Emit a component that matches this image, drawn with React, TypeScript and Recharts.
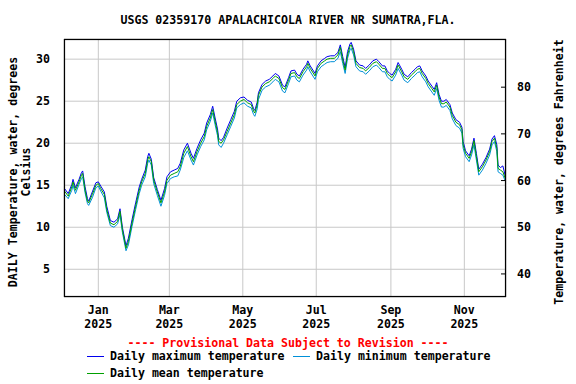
import React from 'react';
import { LineChart, Line, XAxis, YAxis, CartesianGrid } from 'recharts';

// day offsets from Jan 1 2025 (negative = Dec 2024)
const days = [
  -28, -25, -22, -21, -19, -16, -14, -13, -11, -9, -8, -5, -2, 0, 2, 5, 7, 10, 13, 16,
  18, 20, 23, 25, 28, 31, 34, 36, 39, 41, 42, 44, 46, 49, 52, 55, 57, 60, 63, 66,
  68, 71, 74, 77, 79, 82, 85, 88, 90, 93, 95, 97, 99, 100, 102, 104, 107, 110, 113, 115,
  118, 121, 124, 127, 129, 130, 132, 133, 136, 139, 142, 145, 147, 150, 153, 155, 158, 160, 163, 165,
  167, 170, 173, 174, 176, 180, 182, 185, 188, 190, 193, 196, 199, 201, 203, 205, 207, 209, 210, 212,
  214, 217, 220, 222, 225, 228, 231, 233, 236, 238, 240, 242, 244, 247, 249, 252, 254, 257, 260, 263,
  265, 267, 269, 272, 274, 277, 279, 281, 283, 285, 287, 289, 292, 294, 297, 300, 302, 303, 305, 308,
  310, 312, 314, 316, 319, 322, 325, 327, 329, 331, 332, 334, 336, 338,
];

const meanTemp = [
  14.3, 13.7, 14.8, 15.4, 14.4, 15.4, 16.2, 16.4, 14.4, 13.1, 12.9, 13.9, 15.0, 15.2, 14.6, 13.9, 12.1, 10.5, 10.3, 10.7,
  11.9, 9.7, 7.5, 8.3, 10.5, 12.5, 14.4, 15.4, 16.4, 18.0, 18.4, 17.8, 15.6, 14.2, 12.9, 14.2, 15.6, 16.2, 16.4, 16.6,
  17.2, 18.8, 19.6, 18.4, 17.8, 19.0, 20.0, 20.8, 22.0, 23.0, 24.0, 22.6, 21.3, 20.2, 20.0, 20.4, 21.4, 22.4, 23.4, 24.6,
  25.0, 25.2, 24.8, 24.6, 23.8, 23.6, 24.6, 25.7, 26.7, 27.1, 27.3, 27.7, 28.0, 27.7, 26.6, 26.4, 27.5, 28.3, 28.4, 27.9,
  27.7, 28.5, 29.1, 29.5, 28.9, 28.0, 28.9, 29.5, 29.8, 30.0, 30.1, 30.1, 30.5, 31.4, 29.9, 28.7, 30.5, 31.5, 31.7, 30.9,
  29.5, 29.0, 28.9, 28.6, 29.0, 29.5, 29.7, 29.4, 28.9, 28.9, 28.3, 28.0, 27.8, 28.5, 29.3, 28.5, 27.9, 27.6, 28.1, 28.5,
  28.8, 28.9, 28.3, 27.7, 27.1, 26.5, 26.1, 26.9, 25.5, 24.7, 24.7, 24.9, 24.3, 23.3, 22.5, 22.2, 21.6, 19.8, 18.8, 18.2,
  19.0, 20.3, 18.4, 16.6, 17.2, 18.0, 19.0, 20.2, 20.6, 19.4, 17.0, 16.8, 16.6, 15.8,
];

const maxTemp = [
  14.6, 14.0, 15.1, 15.7, 14.7, 15.7, 16.5, 16.7, 14.8, 13.4, 13.1, 14.2, 15.3, 15.4, 14.9, 14.2, 12.5, 10.8, 10.6, 11.0,
  12.2, 10.0, 7.8, 8.7, 10.9, 12.9, 14.8, 15.7, 16.8, 18.4, 18.8, 18.1, 15.9, 14.5, 13.2, 14.6, 16.0, 16.6, 16.8, 17.0,
  17.6, 19.2, 20.0, 18.8, 18.2, 19.4, 20.4, 21.2, 22.4, 23.4, 24.4, 23.0, 21.7, 20.6, 20.3, 20.7, 21.8, 22.8, 23.8, 25.0,
  25.4, 25.5, 25.1, 24.9, 24.1, 23.9, 24.9, 26.0, 27.0, 27.4, 27.6, 28.0, 28.3, 28.0, 26.9, 26.7, 27.8, 28.6, 28.7, 28.2,
  28.0, 28.8, 29.4, 29.8, 29.2, 28.3, 29.2, 29.8, 30.1, 30.3, 30.4, 30.4, 30.8, 31.7, 30.3, 29.0, 30.9, 31.8, 32.0, 31.2,
  29.8, 29.3, 29.2, 28.9, 29.3, 29.8, 30.0, 29.7, 29.2, 29.2, 28.6, 28.3, 28.1, 28.8, 29.6, 28.8, 28.2, 27.9, 28.4, 28.8,
  29.1, 29.2, 28.6, 28.0, 27.4, 26.8, 26.4, 27.2, 25.8, 25.0, 25.0, 25.2, 24.6, 23.6, 22.8, 22.5, 21.9, 20.2, 19.1, 18.5,
  19.3, 20.6, 18.8, 16.9, 17.5, 18.3, 19.3, 20.5, 20.9, 19.8, 17.4, 17.1, 17.3, 16.1,
];

const minTemp = [
  13.9, 13.4, 14.4, 15.0, 14.0, 15.1, 15.8, 16.0, 14.1, 12.8, 12.6, 13.5, 14.7, 14.9, 14.3, 13.5, 11.8, 10.2, 10.0, 10.4,
  11.5, 9.4, 7.2, 7.9, 10.1, 12.1, 14.0, 15.0, 16.0, 17.6, 18.0, 17.4, 15.2, 13.8, 12.5, 13.8, 15.2, 15.8, 16.0, 16.1,
  16.8, 18.3, 19.1, 18.0, 17.4, 18.6, 19.6, 20.4, 21.6, 22.6, 23.6, 22.2, 20.9, 19.8, 19.5, 20.0, 21.0, 22.0, 23.0, 24.2,
  24.6, 24.8, 24.4, 24.2, 23.4, 23.2, 24.1, 25.2, 26.3, 26.7, 26.9, 27.3, 27.6, 27.3, 26.2, 26.0, 27.1, 27.9, 28.0, 27.5,
  27.3, 28.1, 28.7, 29.1, 28.5, 27.6, 28.5, 29.1, 29.4, 29.6, 29.7, 29.7, 30.1, 30.9, 29.5, 28.3, 30.1, 31.1, 31.3, 30.5,
  29.1, 28.6, 28.5, 28.2, 28.6, 29.1, 29.3, 29.0, 28.5, 28.5, 27.9, 27.6, 27.4, 28.1, 28.9, 28.1, 27.5, 27.2, 27.7, 28.1,
  28.4, 28.5, 27.9, 27.3, 26.7, 26.1, 25.7, 26.5, 25.1, 24.3, 24.3, 24.5, 23.9, 22.9, 22.1, 21.8, 21.2, 19.4, 18.4, 17.8,
  18.6, 19.8, 18.0, 16.2, 16.8, 17.6, 18.6, 19.8, 20.2, 19.0, 16.6, 16.4, 16.2, 15.5,
];

const monthTicks = [0, 59, 120, 181, 243, 304];
const monthLabels = ['Jan', 'Mar', 'May', 'Jul', 'Sep', 'Nov'];
const tickYear = '2025';
const celsiusTicks = [5, 10, 15, 20, 25, 30];
const fahrenheitTicks = [40, 50, 60, 70, 80];

const data = days.map((d, i) => ({
  day: d,
  max: maxTemp[i],
  min: minTemp[i],
  mean: meanTemp[i],
}));

const FONT = '"DejaVu Sans Mono", "Liberation Mono", monospace';
const FS = 11.6;

const MonthTick = (props: any) => {
  const { x, y, payload } = props;
  const idx = monthTicks.indexOf(payload.value);
  return (
    <g>
      <text x={x} y={y + 17} textAnchor="middle" fontFamily={FONT} fontWeight="bold" fontSize={FS} fill="#000">
        {monthLabels[idx]}
      </text>
      <text x={x} y={y + 31} textAnchor="middle" fontFamily={FONT} fontWeight="bold" fontSize={FS} fill="#000">
        {tickYear}
      </text>
    </g>
  );
};

const tickStyle = { fontFamily: FONT, fontWeight: 'bold', fontSize: FS, fill: '#000' };

export default function App() {
  return (
    <div style={{ position: 'absolute', left: 0, top: 0, width: 576, height: 384, background: '#fff' }}>
      <LineChart
        width={576}
        height={384}
        data={data}
        margin={{ top: 39, left: 24, right: 30, bottom: 57 }}
      >
        <CartesianGrid yAxisId="c" stroke="#c8c8c8" strokeWidth={1} />
        <XAxis
          dataKey="day"
          type="number"
          domain={[-28.5, 338.6]}
          ticks={monthTicks}
          height={30}
          tickLine={false}
          axisLine={false}
          tickSize={0}
          tickMargin={0}
          tick={<MonthTick />}
          allowDataOverflow
        />
        <YAxis
          yAxisId="c"
          domain={[1.7, 32.4]}
          ticks={celsiusTicks}
          width={40}
          tickLine={false}
          axisLine={false}
          tickMargin={8}
          tick={tickStyle}
          allowDataOverflow
        />
        <YAxis
          yAxisId="f"
          orientation="right"
          domain={[35.06, 90.32]}
          ticks={fahrenheitTicks}
          width={40}
          axisLine={false}
          tickSize={-5}
          tickMargin={16}
          tickLine={{ stroke: '#000' }}
          tick={tickStyle}
          allowDataOverflow
        />
        <Line yAxisId="c" dataKey="max" stroke="#0000ee" strokeWidth={1} dot={false} isAnimationActive={false} />
        <Line yAxisId="c" dataKey="min" stroke="#0090d8" strokeWidth={1} dot={false} isAnimationActive={false} />
        <Line yAxisId="c" dataKey="mean" stroke="#00a000" strokeWidth={1} dot={false} isAnimationActive={false} />
      </LineChart>
      <svg
        width={576}
        height={384}
        style={{ position: 'absolute', left: 0, top: 0, pointerEvents: 'none' }}
        fontFamily={FONT}
        fontWeight="bold"
        fontSize={FS}
      >
        <rect x={64.5} y={39.5} width={441} height={257} fill="none" stroke="#000" strokeWidth={1.2} />
        <text x={288} y={24} textAnchor="middle" fill="#000">
          USGS 02359170 APALACHICOLA RIVER NR SUMATRA,FLA.
        </text>
        <text transform="translate(17,172) rotate(-90)" textAnchor="middle" fill="#000">
          DAILY Temperature, water, degrees
        </text>
        <text transform="translate(30,172) rotate(-90)" textAnchor="middle" fill="#000">
          Celsius
        </text>
        <text transform="translate(563,172) rotate(-90)" textAnchor="middle" fill="#000">
          Temperature, water, degrees Fahrenheit
        </text>
        <text x={288} y={347} textAnchor="middle" fill="#ff0000">
          ---- Provisional Data Subject to Revision ----
        </text>
        <line x1={87} x2={104} y1={356.5} y2={356.5} stroke="#0000ee" strokeWidth={1} />
        <text x={110} y={360} fill="#000">Daily maximum temperature</text>
        <line x1={293} x2={310} y1={356.5} y2={356.5} stroke="#0090d8" strokeWidth={1} />
        <text x={316} y={360} fill="#000">Daily minimum temperature</text>
        <line x1={87} x2={104} y1={373.5} y2={373.5} stroke="#00a000" strokeWidth={1} />
        <text x={110} y={377} fill="#000">Daily mean temperature</text>
      </svg>
    </div>
  );
}
